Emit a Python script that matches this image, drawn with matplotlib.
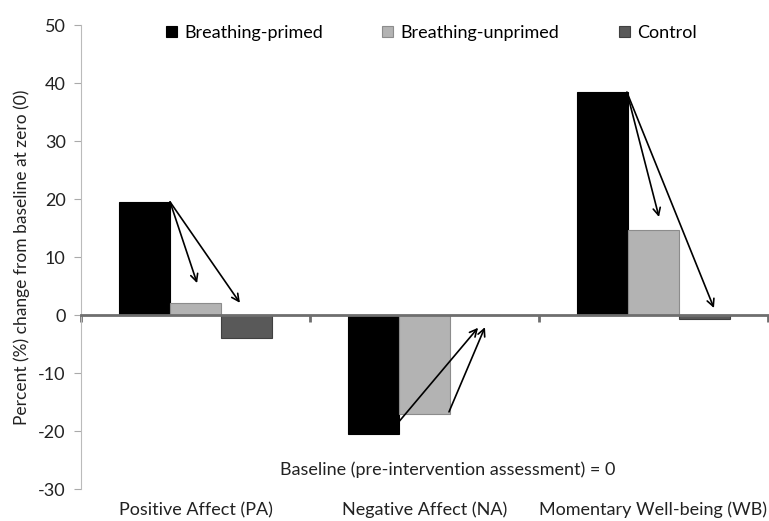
import numpy as np
import matplotlib
matplotlib.use("Agg")
import matplotlib.pyplot as plt
from matplotlib.transforms import blended_transform_factory

plt.rcParams["font.family"] = ["Lato", "DejaVu Sans"]
plt.rcParams["axes.unicode_minus"] = False

categories = ["Positive Affect (PA)", "Negative Affect (NA)", "Momentary Well-being (WB)"]
series = ["Breathing-primed", "Breathing-unprimed", "Control"]
primed = [19.5, -20.5, 38.4]
unprimed = [2.1, -17.0, 14.6]
control = [-3.9, 0.0, -0.7]
colors = ["#000000", "#b3b3b3", "#595959"]
edges = ["#000000", "#8c8c8c", "#404040"]

# arrows: start/end points in data units
arrows_from = [(-0.111, 19.5), (-0.111, 19.5), (0.884, -18.6), (1.107, -16.7), (1.884, 38.4), (1.884, 38.4)]
arrows_to = [(0.007, 5.5), (0.194, 2.1), (1.234, -2.2), (1.264, -2.1), (2.024, 16.9), (2.264, 1.2)]

fig = plt.figure(figsize=(7.69, 5.21), dpi=100)
ax = fig.add_axes([0.1053, 0.0614, 0.8934, 0.8906])

x = np.arange(len(categories))
w = 0.222
for k, vals in enumerate([primed, unprimed, control]):
    ax.bar(x + (k - 1) * w, vals, width=w, color=colors[k], edgecolor=edges[k],
           linewidth=0.8, label=series[k], zorder=2)

for (x0, y0), (x1, y1) in zip(arrows_from, arrows_to):
    ax.annotate("", xy=(x1, y1), xytext=(x0, y0),
                arrowprops=dict(arrowstyle="->", color="black", lw=1.2,
                                mutation_scale=13, shrinkA=0, shrinkB=0),
                zorder=4)

ax.set_xlim(-0.5, len(categories) - 0.5)
ax.set_ylim(-30, 50)
ax.set_yticks(np.arange(-30, 51, 10))
ax.tick_params(axis="y", direction="out", length=5, color="#aaaaaa",
               labelsize=13, labelcolor="#222222", pad=6)

ax.spines["top"].set_visible(False)
ax.spines["right"].set_visible(False)
ax.spines["left"].set_color("#bbbbbb")
ax.spines["bottom"].set_position(("data", 0))
ax.spines["bottom"].set_color("#6e6e6e")
ax.spines["bottom"].set_linewidth(2)
ax.spines["bottom"].set_zorder(3)
ax.set_xticks(np.arange(len(categories) + 1) - 0.5)
ax.set_xticklabels([])
ax.tick_params(axis="x", direction="out", length=5, width=2, color="#6e6e6e")

trans = blended_transform_factory(ax.transData, ax.transAxes)
for i, c in enumerate(categories):
    ax.text(i, -0.045, c, transform=trans, ha="center", va="center",
            fontsize=13, color="#222222")

ax.text(1.1, -26.7, "Baseline (pre-intervention assessment) = 0",
        ha="center", va="center", fontsize=13, color="#222222")

ax.set_ylabel("Percent (%) change from baseline at zero (0)", fontsize=12.5,
              color="#222222", labelpad=6)

ax.legend(loc="upper center", bbox_to_anchor=(0.51, 1.035), ncol=3, frameon=False,
          fontsize=13, handlelength=0.6, handleheight=0.6, handletextpad=0.4,
          columnspacing=3.3)

fig.savefig("out.png", dpi=100)
